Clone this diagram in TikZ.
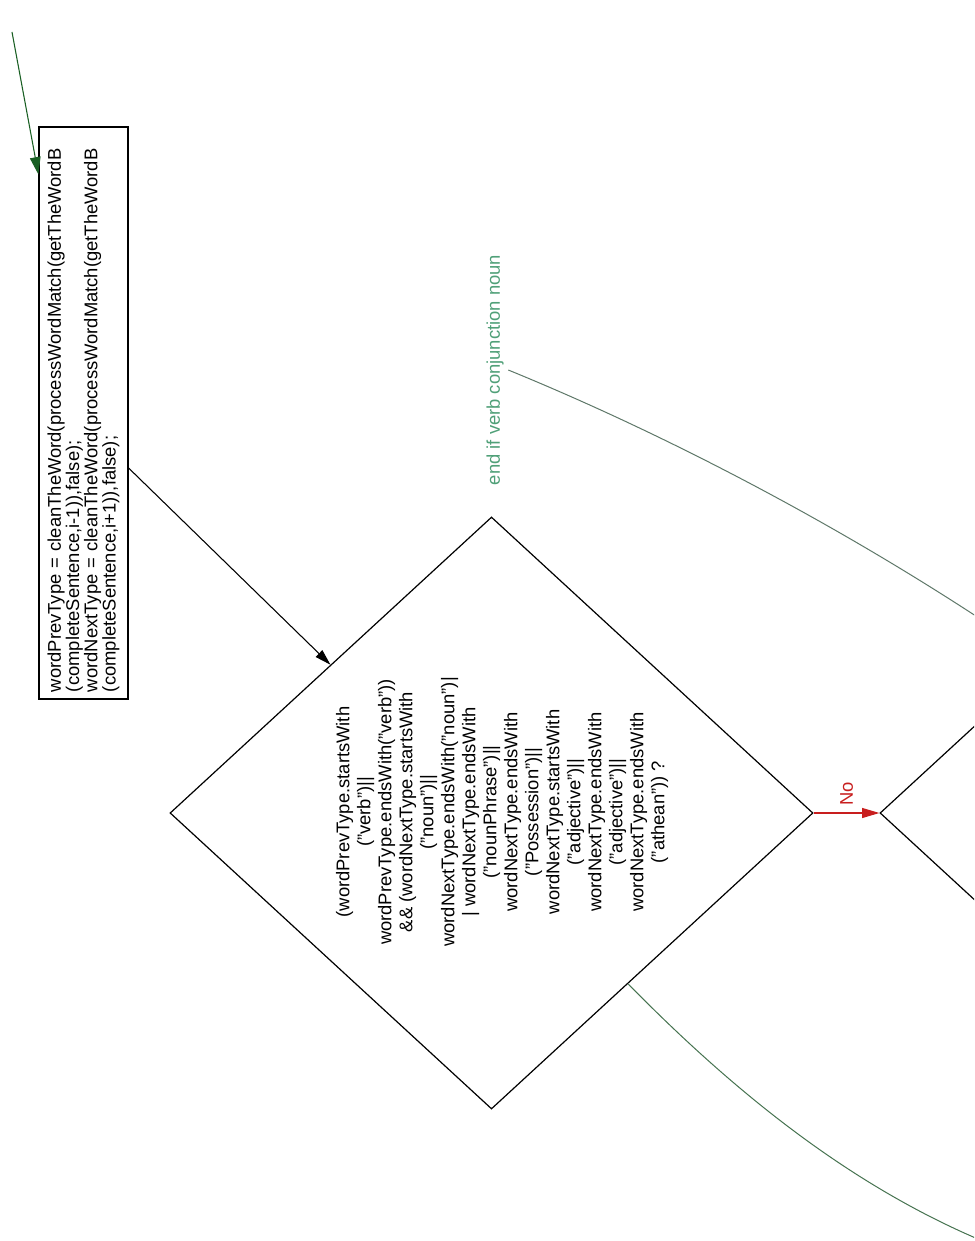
\documentclass[tikz,border=0pt]{standalone}
\usepackage{fontspec}
\setmainfont{Liberation Sans}
\usetikzlibrary{shapes.geometric,arrows.meta,calc}
\definecolor{dgreen}{RGB}{25,95,35}
\definecolor{lgreen}{RGB}{80,160,120}
\definecolor{cgreen}{RGB}{70,115,80}
\definecolor{ggray}{RGB}{95,120,105}
\definecolor{nored}{RGB}{200,30,30}
\tikzset{
  txt/.style={font=\fontsize{13.8pt}{13.7pt}\selectfont},
  procbox/.style={draw=black, line width=0.9pt, rotate=90, align=left,
    minimum width=429pt, minimum height=66.75pt, text width=418.5pt,
    inner xsep=5.25pt, inner ysep=0pt, txt},
  decision/.style={diamond, draw=black, line width=0.9pt, inner sep=0pt,
    minimum width=482.25pt, minimum height=444pt},
  condtext/.style={rotate=90, align=center, font=\fontsize{13.8pt}{15.75pt}\selectfont},
  flow/.style={draw=black, line width=0.8pt, -{Triangle[length=12pt,width=7pt]}},
  greenflow/.style={draw=dgreen, line width=0.8pt, -{Triangle[length=13pt,width=8pt]}},
  redflow/.style={draw=nored, line width=0.8pt, -{Triangle[length=13pt,width=7.5pt]}},
  curveline/.style={draw=cgreen, line width=0.75pt},
}
\begin{document}
\begin{tikzpicture}[x=0.75pt,y=-0.75pt]
\useasboundingbox (0,0) rectangle (974,1241);
\clip (0,0) rectangle (974,1241);
\fill[white] (0,0) rectangle (974,1241);

\node[procbox] (init) at (83.5,413) {wordPrevType = cleanTheWord(processWordMatch(getTheWordB\\
(completeSentence,i-1)),false);\\
wordNextType = cleanTheWord(processWordMatch(getTheWordB\\
(completeSentence,i+1)),false);};

\node[decision] (cond) at (491.5,813) {};
\node[condtext] (condtxt) at (502,812) {(wordPrevType.startsWith\\
("verb")||\\
wordPrevType.endsWith("verb"))\\
\&\& (wordNextType.startsWith\\
("noun")||\\
wordNextType.endsWith("noun")|\\
| wordNextType.endsWith\\
("nounPhrase")||\\
wordNextType.endsWith\\
("Possession")||\\
wordNextType.startsWith\\
("adjective")||\\
wordNextType.endsWith\\
("adjective")||\\
wordNextType.endsWith\\
("athean")) ?};

\node[decision] (cond2) at (1201.5,813) {};

\node[rotate=90, text=lgreen, txt] (endlbl) at (495,370) {end if verb conjunction noun};

\coordinate (gA) at (12,32);
\coordinate (eA) at (985,622);
\coordinate (eB) at (985,1242);

\draw[greenflow] (gA) -- ($(init.north east)+(0,48)$);
\draw[flow] ($(init.south)+(0,55)$) -- (cond.north west);
\draw[redflow] (cond.east) -- node[midway, rotate=90, anchor=west, inner sep=5pt, text=nored, txt] (nolbl) {No} (cond2.west);
\draw[curveline, draw=ggray] (endlbl.south) .. controls (660,432) and (830,520) .. (eA);
\draw[curveline] ($(cond.south)!0.424!(cond.east)$) .. controls (743,1101) and (858,1189) .. (eB);
\end{tikzpicture}
\end{document}
